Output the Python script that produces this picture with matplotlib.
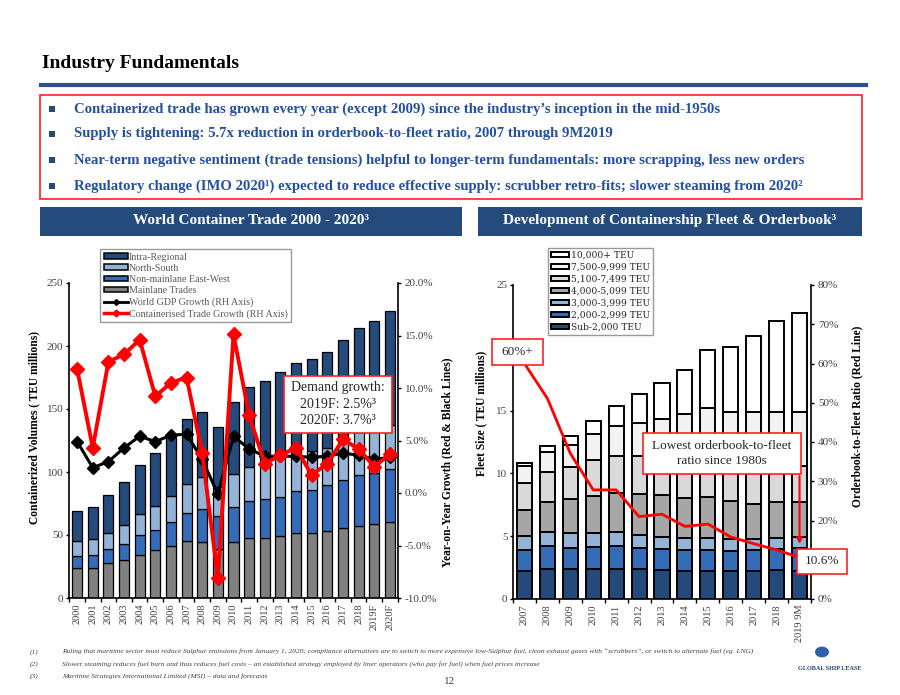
import numpy as np
import matplotlib
matplotlib.use('Agg')
from matplotlib import pyplot as plt
from matplotlib.patches import Rectangle, Patch, Circle
from matplotlib.lines import Line2D
from matplotlib.ticker import FixedLocator

plt.rcParams['font.family'] = ['Liberation Serif', 'DejaVu Serif']
plt.rcParams['axes.unicode_minus'] = False

# ---- World container trade (TEU millions) ----
trade_years = ['2000', '2001', '2002', '2003', '2004', '2005', '2006', '2007', '2008', '2009', '2010',
               '2011', '2012', '2013', '2014', '2015', '2016', '2017', '2018', '2019F', '2020F']
mainlane = [24.2, 24.2, 27.4, 30.3, 34.5, 37.9, 41.6, 45.3, 44.2, 38.7, 44.7,
            47.4, 47.6, 49.2, 51.3, 51.3, 53.4, 55.5, 57.4, 58.7, 60.0]
non_mainlane = [9.0, 10.0, 11.3, 12.9, 15.2, 16.3, 18.7, 22.3, 26.8, 26.6, 27.7,
                29.4, 30.8, 31.1, 33.4, 34.7, 36.6, 38.5, 40.0, 40.8, 42.6]
north_south = [12.1, 12.4, 13.1, 15.0, 16.9, 19.0, 20.5, 23.2, 25.0, 22.7, 25.8,
               27.2, 33.0, 33.4, 32.3, 30.6, 29.3, 33.6, 34.2, 34.8, 34.8]
intra_regional = [23.7, 25.5, 29.8, 33.9, 38.9, 42.1, 47.2, 51.1, 51.4, 47.4, 57.6,
                  63.7, 61.1, 65.3, 69.6, 73.4, 76.0, 77.4, 82.4, 85.5, 90.3]
# growth in %
trade_growth = [11.8, 4.3, 12.5, 13.2, 14.6, 9.2, 10.5, 11.0, 3.8, -8.1, 15.1,
                7.4, 2.8, 3.6, 4.3, 1.7, 2.8, 5.1, 4.2, 2.5, 3.7]
gdp_growth = [4.9, 2.4, 3.0, 4.3, 5.4, 4.9, 5.5, 5.6, 3.2, -0.1, 5.4,
              4.2, 3.5, 3.5, 3.5, 3.4, 3.5, 3.8, 3.6, 3.2, 3.4]
growth_ticks = [-10, -5, 0, 5, 10, 15, 20]

# ---- Containership fleet (TEU millions) ----
fleet_years = ['2007', '2008', '2009', '2010', '2011', '2012', '2013', '2014', '2015',
               '2016', '2017', '2018', '2019 9M']
sub_2000 = [2.2, 2.37, 2.37, 2.4, 2.42, 2.37, 2.29, 2.23, 2.24, 2.23, 2.26, 2.29, 2.23]
teu_2000 = [1.7, 1.83, 1.73, 1.75, 1.78, 1.67, 1.7, 1.65, 1.7, 1.63, 1.62, 1.73, 1.81]
teu_3000 = [1.1, 1.1, 1.14, 1.12, 1.1, 1.09, 0.96, 0.96, 0.9, 0.9, 0.88, 0.82, 0.91]
teu_4000 = [2.05, 2.4, 2.74, 2.97, 3.16, 3.25, 3.32, 3.23, 3.31, 3.04, 2.84, 2.86, 2.75]
teu_5100 = [2.15, 2.4, 2.52, 2.82, 2.94, 3.0, 3.03, 2.93, 2.75, 2.9, 3.0, 2.9, 2.9]
teu_7500 = [1.4, 1.6, 1.76, 2.1, 2.4, 2.66, 3.0, 3.7, 4.3, 4.2, 4.25, 4.3, 4.25]
teu_10000 = [0.25, 0.5, 0.74, 0.99, 1.6, 2.32, 2.88, 3.55, 4.6, 5.18, 6.05, 7.2, 7.92]
orderbook_ratio = [60.0, 51.1, 37.1, 27.8, 27.8, 21.0, 21.6, 18.5, 19.1, 15.8, 14.1, 12.5, 10.6]
fleet_ticks = [0, 5, 10, 15, 20, 25]
ratio_ticks = [0, 10, 20, 30, 40, 50, 60, 70, 80]

W, H = 900, 695
NAVY = '#254B7D'
TXT_BLUE = '#2450A4'


def fbox(x0, y0, x1, y1):
    return [x0 / W, 1 - y1 / H, (x1 - x0) / W, (y1 - y0) / H]


def ftext(x, y, s, **kw):
    return fig.text(x / W, 1 - y / H, s, **kw)


def frect(x0, y0, x1, y1, **kw):
    r = Rectangle((x0 / W, 1 - y1 / H), (x1 - x0) / W, (y1 - y0) / H,
                  transform=fig.transFigure, **kw)
    fig.add_artist(r)
    return r


def callout(x0, y0, x1, y1, s, size):
    frect(x0, y0, x1, y1, facecolor='white', edgecolor='#FF2020', linewidth=1.2)
    ftext((x0 + x1) / 2, (y0 + y1) / 2, s, ha='center', va='center', fontsize=size,
          color='#262626', linespacing=1.35)


fig = plt.figure(figsize=(9, 6.95), dpi=100)

# ---- header ----
ftext(42, 64, 'Industry Fundamentals', fontsize=14, weight='bold', va='center')
fig.add_artist(Line2D([41 / W, 866 / W], [1 - 85 / H, 1 - 85 / H], transform=fig.transFigure,
                      color='#2E5189', lw=3))
frect(40, 95, 862, 199, facecolor='none', edgecolor='#FF2020', linewidth=1.2)
bullets = [
    'Containerized trade has grown every year (except 2009) since the industry\u2019s inception in the mid-1950s',
    'Supply is tightening: 5.7x reduction in orderbook-to-fleet ratio, 2007 through 9M2019',
    'Near-term negative sentiment (trade tensions) helpful to longer-term fundamentals: more scrapping, less new orders',
    'Regulatory change (IMO 2020\u00b9) expected to reduce effective supply: scrubber retro-fits; slower steaming from 2020\u00b2',
]
for i, b in enumerate(bullets):
    y = [109, 134, 160, 186][i]
    frect(49, y - 3, 55, y + 3, facecolor=NAVY, edgecolor='none')
    ftext(74, y, b, fontsize=10.6, color=TXT_BLUE, va='center', weight='bold')

frect(40, 207, 462, 236, facecolor=NAVY, edgecolor='none')
frect(478, 207, 862, 236, facecolor=NAVY, edgecolor='none')
ftext(251, 221, 'World Container Trade 2000 - 2020\u00b3', color='white', fontsize=11,
      ha='center', va='center', weight='bold')
ftext(670, 221, 'Development of Containership Fleet & Orderbook\u00b3', color='white', fontsize=11,
      ha='center', va='center', weight='bold')

# ---- left chart ----
ax1 = fig.add_axes(fbox(69, 283, 398, 598))
ax1r = ax1.twinx()
x = np.arange(len(trade_years))
bw = 0.64
segs = [(mainlane, '#808080', 'Mainlane Trades'),
        (non_mainlane, '#356CB8', 'Non-mainlane East-West'),
        (north_south, '#95B3D7', 'North-South'),
        (intra_regional, NAVY, 'Intra-Regional')]
bottom = np.zeros(len(x))
for vals, col, lab in segs:
    ax1.bar(x, vals, bw, bottom=bottom, color=col, edgecolor='black', linewidth=0.9, zorder=2)
    bottom += np.array(vals)
ax1.set_xlim(-0.52, len(x) - 0.48)
ax1.set_ylim(0, 250)
ax1.set_yticks([0, 50, 100, 150, 200, 250])
ax1r.set_ylim(-0.10, 0.20)
ax1r.set_yticks(np.array(growth_ticks) / 100)
ax1r.set_yticklabels(['%.1f%%' % t for t in growth_ticks])
ax1r.plot(x, np.array(gdp_growth) / 100, color='black', lw=2.2, marker='D', markersize=6, zorder=3)
ax1r.plot(x, np.array(trade_growth) / 100, color='#FF0000', lw=2.8, marker='D', markersize=7, zorder=4)

# ---- right chart ----
ax2 = fig.add_axes(fbox(513, 285, 811, 599))
ax2r = ax2.twinx()
xf = np.arange(len(fleet_years))
fw = 0.66
fsegs = [(sub_2000, '#244A7B', 'Sub-2,000 TEU'),
         (teu_2000, '#356CB8', '2,000-2,999 TEU'),
         (teu_3000, '#95B3D7', '3,000-3,999 TEU'),
         (teu_4000, '#A6A6A6', '4,000-5,099 TEU'),
         (teu_5100, '#D9D9D9', '5,100-7,499 TEU'),
         (teu_7500, '#F2F2F2', '7,500-9,999 TEU'),
         (teu_10000, '#FFFFFF', '10,000+ TEU')]
bottom = np.zeros(len(xf))
for vals, col, lab in fsegs:
    ax2.bar(xf, vals, fw, bottom=bottom, color=col, edgecolor='black', linewidth=1.4, zorder=2)
    bottom += np.array(vals)
ax2.set_xlim(-0.5, len(xf) - 0.5)
ax2.set_ylim(0, 25)
ax2.set_yticks(fleet_ticks)
# the 20 and 10% labels sit under the callout boxes in the original
ax2.set_yticklabels(['' if t == 20 else str(t) for t in fleet_ticks])
ax2r.set_ylim(0, 0.80)
ax2r.set_yticks(np.array(ratio_ticks) / 100)
ax2r.set_yticklabels(['' if t == 10 else '%d%%' % t for t in ratio_ticks])
ax2r.plot(xf, np.array(orderbook_ratio) / 100, color='#FF0000', lw=2, zorder=3)

# common axis styling
for a, ar, labels, xs in [(ax1, ax1r, trade_years, x), (ax2, ax2r, fleet_years, xf)]:
    for s in ['top', 'right']:
        a.spines[s].set_visible(False)
    for s in ['top', 'left', 'bottom']:
        ar.spines[s].set_visible(False)
    a.spines['left'].set_linewidth(1.2)
    a.spines['bottom'].set_linewidth(1.2)
    ar.spines['right'].set_linewidth(1.2)
    a.set_xticks(xs)
    a.set_xticklabels(labels, rotation=90, fontsize=7.5, color='#404040')
    a.xaxis.set_minor_locator(FixedLocator(np.arange(-0.5, len(xs), 1.0)))
    a.tick_params(axis='x', which='major', length=0, pad=4)
    a.tick_params(axis='x', which='minor', length=3, width=1)
    a.tick_params(axis='y', length=2.5, width=1, pad=1.5, labelsize=8, labelcolor='#404040')
    ar.tick_params(axis='y', length=2.5, width=1, pad=2.5, labelsize=8, labelcolor='#404040')
    a.patch.set_visible(False)

# axis titles
ftext(34, 428, 'Containerized Volumes ( TEU millions)', rotation=90, ha='center', va='center',
      fontsize=8.3, weight='bold')
ftext(447, 462, 'Year-on-Year Growth (Red & Black Lines)', rotation=90, ha='center', va='center',
      fontsize=8.3, weight='bold')
ftext(481, 413, 'Fleet Size ( TEU millions)', rotation=90, ha='center', va='center',
      fontsize=8.3, weight='bold')
ftext(857, 416, 'Orderbook-to-Fleet Ratio (Red Line)', rotation=90, ha='center', va='center',
      fontsize=8.3, weight='bold')

# legends
h1 = [Patch(facecolor=c, edgecolor='black', linewidth=1.1) for v, c, l in segs[::-1]]
l1 = [l for v, c, l in segs[::-1]]
h1 += [Line2D([], [], color='black', lw=2, marker='D', markersize=3),
       Line2D([], [], color='#FF0000', lw=2.5, marker='D', markersize=3.5)]
l1 += ['World GDP Growth (RH Axis)', 'Containerised Trade Growth (RH Axis)']
leg1 = fig.legend(h1, l1, loc='upper left', bbox_to_anchor=(95 / W, 1 - 244 / H),
                  fontsize=7.2, frameon=True, fancybox=False, edgecolor='#808080',
                  handlelength=2.4, handleheight=0.45, handletextpad=0.15, labelspacing=0.22,
                  borderpad=0.35, labelcolor='#595959')
leg1.get_frame().set_linewidth(1)

h2 = [Patch(facecolor=c, edgecolor='black', linewidth=1.4) for v, c, l in fsegs[::-1]]
l2 = [l for v, c, l in fsegs[::-1]]
leg2 = fig.legend(h2, l2, loc='upper left', bbox_to_anchor=(543 / W, 1 - 243 / H),
                  prop={'family': 'DejaVu Serif', 'size': 6.6}, frameon=True, fancybox=False,
                  edgecolor='#808080', handlelength=2.0, handleheight=0.5, handletextpad=0.2,
                  labelspacing=0.32, borderpad=0.35, labelcolor='#262626')
leg2.get_frame().set_linewidth(1)

# callouts
callout(284, 376, 392, 433, 'Demand growth:\n2019F: 2.5%\u00b3\n2020F: 3.7%\u00b3', 10)
callout(492, 339, 543, 365, '60%+', 9.5)
callout(643, 433, 801, 474, 'Lowest orderbook-to-fleet\nratio since 1980s', 9.5)
callout(797, 549, 847, 574, '10.6%', 9.5)
ax2r.annotate('', xy=(len(xf) - 1, 0.133), xytext=(len(xf) - 1, 0.32),
              arrowprops=dict(arrowstyle='-|>', color='#FF0000', lw=1.5, mutation_scale=8))

# footnotes
notes = [
    'Ruling that maritime sector must reduce Sulphur emissions from January 1, 2020; compliance alternatives are to switch to more expensive low-Sulphur fuel, clean exhaust gases with \u201cscrubbers\u201d, or switch to alternate fuel (eg. LNG)',
    'Slower steaming reduces fuel burn and thus reduces fuel costs \u2013 an established strategy employed by liner operators (who pay for fuel) when fuel prices increase',
    'Maritime Strategies International Limited (MSI) \u2013 data and forecasts',
]
for i, n in enumerate(notes):
    y = 652 + i * 12
    ftext(30, y, '(%d)' % (i + 1), fontsize=5.3, style='italic', va='center', color='#404040')
    ftext(62, y, n, fontsize=5.3, style='italic', va='center', color='#404040')
ftext(450, 682, '12', fontsize=8, ha='center', va='center', color='#404040')

# logo
fig.add_artist(Circle((822 / W, 1 - 652 / H), 7 / W, transform=fig.transFigure,
                      facecolor='#2E5FA8', edgecolor='none'))
ftext(830, 668, 'GLOBAL SHIP LEASE', fontsize=4.5, weight='bold', color='#1F3F7A',
      ha='center', va='center')

plt.savefig('out.png', dpi=100)
plt.close()
